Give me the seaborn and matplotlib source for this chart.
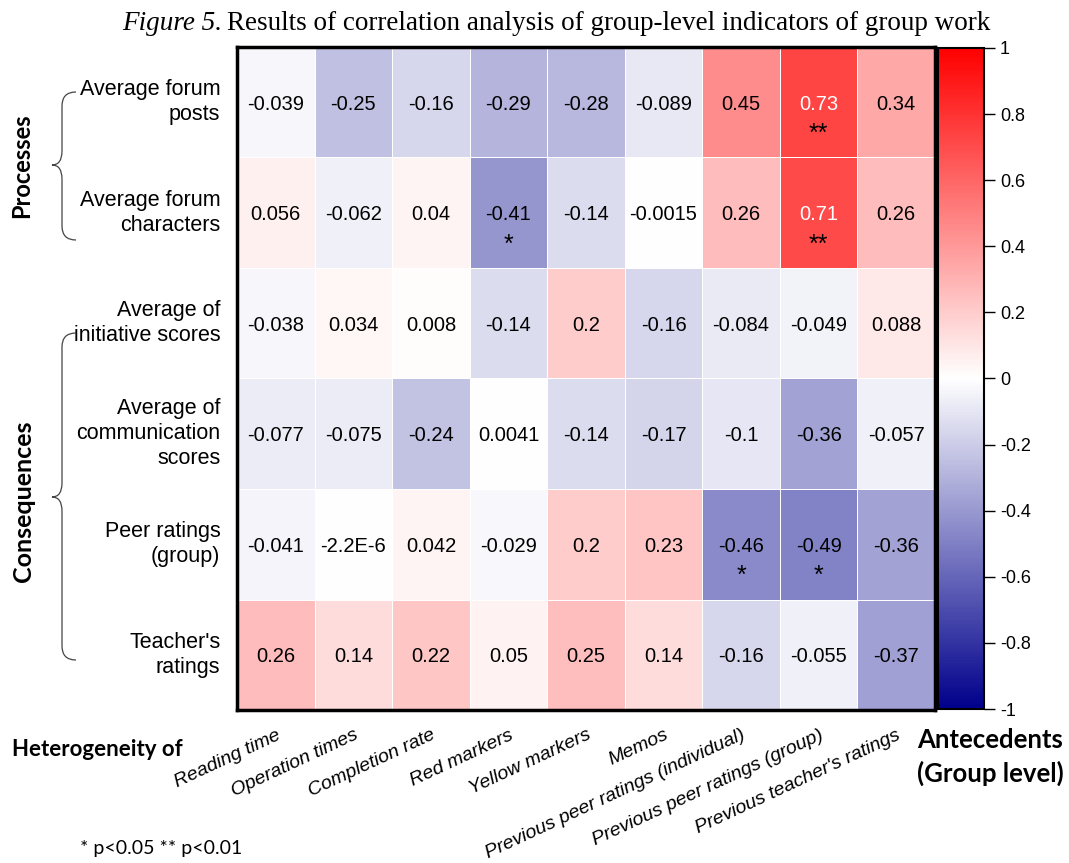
import numpy as np
import pandas as pd
import matplotlib
matplotlib.use("Agg")
import matplotlib.pyplot as plt
from matplotlib.colors import LinearSegmentedColormap
from matplotlib.path import Path
from matplotlib.patches import PathPatch
import seaborn as sns

# rows: outcomes (processes / consequences), columns: heterogeneity antecedents
row_labels = ["Average forum\nposts", "Average forum\ncharacters", "Average of\ninitiative scores",
              "Average of\ncommunication\nscores", "Peer ratings\n(group)", "Teacher's\nratings"]
col_labels = ["Reading time", "Operation times", "Completion rate", "Red markers", "Yellow markers",
              "Memos", "Previous peer ratings (individual)", "Previous peer ratings (group)",
              "Previous teacher's ratings"]

r_posts = [-0.039, -0.25, -0.16, -0.29, -0.28, -0.089, 0.45, 0.73, 0.34]
r_chars = [0.056, -0.062, 0.04, -0.41, -0.14, -0.0015, 0.26, 0.71, 0.26]
r_init = [-0.038, 0.034, 0.008, -0.14, 0.2, -0.16, -0.084, -0.049, 0.088]
r_comm = [-0.077, -0.075, -0.24, 0.0041, -0.14, -0.17, -0.1, -0.36, -0.057]
r_peer = [-0.041, -2.2e-6, 0.042, -0.029, 0.2, 0.23, -0.46, -0.49, -0.36]
r_teacher = [0.26, 0.14, 0.22, 0.05, 0.25, 0.14, -0.16, -0.055, -0.37]

sig_posts = ["", "", "", "", "", "", "", "**", ""]
sig_chars = ["", "", "", "*", "", "", "", "**", ""]
sig_init = [""] * 9
sig_comm = [""] * 9
sig_peer = ["", "", "", "", "", "", "*", "*", ""]
sig_teacher = [""] * 9

df = pd.DataFrame([r_posts, r_chars, r_init, r_comm, r_peer, r_teacher],
                  index=row_labels, columns=col_labels)
sig = [sig_posts, sig_chars, sig_init, sig_comm, sig_peer, sig_teacher]

cmap = LinearSegmentedColormap.from_list("bwr_navy", ["#00008B", "#FFFFFF", "#FF0000"])

W, H = 1069, 863
fig = plt.figure(figsize=(W / 100, H / 100), dpi=100)
ax = fig.add_axes([237 / W, 1 - 710 / H, 698 / W, 663 / H])
cax = fig.add_axes([938 / W, 1 - 709 / H, 46 / W, 661 / H])

sns.heatmap(df, ax=ax, cbar_ax=cax, cmap=cmap, vmin=-1, vmax=1,
            linewidths=0.6, linecolor="white", annot=False)

sans = "Liberation Sans"
bold = "Lato"

def fmt(v):
    s = "{:.2g}".format(v)
    return s.replace("e-06", "E-6")

for i in range(df.shape[0]):
    for j in range(df.shape[1]):
        v = df.iat[i, j]
        col = "white" if v > 0.7 else "black"
        ax.text(j + 0.5, i + 0.52, fmt(v), ha="center", va="center",
                fontsize=14.5, color=col, family=sans)
        if sig[i][j]:
            ax.text(j + 0.5, i + 0.79, sig[i][j], ha="center", va="center",
                    fontsize=18, color="black", family=sans)

for sp in ax.spines.values():
    sp.set_visible(True)
    sp.set_linewidth(2.5)
    sp.set_color("black")

ax.tick_params(axis="both", length=0)
ax.set_xlabel("")
ax.set_ylabel("")
ax.set_yticks(np.arange(len(row_labels)) + 0.5)
ax.set_yticklabels(row_labels, rotation=0, fontsize=15.5, family=sans, ha="right",
                   multialignment="right", linespacing=1.25)
ax.tick_params(axis="y", pad=12)
ax.set_xticks(np.arange(len(col_labels)) + 0.5)
ax.set_xticklabels(col_labels, rotation=25, ha="right", rotation_mode="anchor",
                   fontsize=14, family=sans, style="italic")
ax.tick_params(axis="x", pad=12)

# colorbar
cbar = ax.collections[0].colorbar
ticks = np.round(np.linspace(-1, 1, 11), 1)
cbar.set_ticks(ticks)
cbar.set_ticklabels(["{:g}".format(t + 0.0) for t in ticks])
cax.tick_params(labelsize=13, length=8, width=1, direction="out")
for lab in cax.get_yticklabels():
    lab.set_family(sans)
cbar.outline.set_visible(True)
cbar.outline.set_linewidth(1.5)
cbar.outline.set_edgecolor("black")

# title with italic figure number
renderer = fig.canvas.get_renderer()
t1 = fig.text(122 / W, 1 - 24 / H, "Figure 5.", fontsize=19.5, family="Liberation Serif",
              style="italic", va="center", ha="left")
bb = t1.get_window_extent(renderer)
fig.text((bb.x1 + 5) / W, 1 - 24 / H, "Results of correlation analysis of group-level indicators of group work",
         fontsize=19.5, family="Liberation Serif", va="center", ha="left")

# group labels
fig.text(22 / W, 1 - 166 / H, "Processes", rotation=90, fontsize=17, family=bold,
         weight="bold", ha="center", va="center")
fig.text(24 / W, 1 - 501 / H, "Consequences", rotation=90, fontsize=18, family=bold,
         weight="bold", ha="center", va="center")
fig.text(12 / W, 1 - 749 / H, "Heterogeneity of", fontsize=16, family=bold, weight="bold",
         ha="left", va="center")
fig.text(990 / W, 1 - 757 / H, "Antecedents\n(Group level)", fontsize=18.5, family=bold,
         weight="bold", ha="center", va="center", linespacing=1.45)
fig.text(80 / W, 1 - 848 / H, "* p<0.05 ** p<0.01", fontsize=14, family=bold,
         ha="left", va="center")

# curly braces
def brace(xtip, xbody, xend, ytop, ymid, ybot):
    d = 14
    pts = [(xend, ytop), (xbody, ytop), (xbody, ytop + d),
           (xbody, ymid - d), (xbody, ymid), (xtip, ymid),
           (xbody, ymid), (xbody, ymid + d),
           (xbody, ybot - d), (xbody, ybot), (xend, ybot)]
    codes = [Path.MOVETO, Path.CURVE3, Path.CURVE3,
             Path.LINETO, Path.CURVE3, Path.CURVE3,
             Path.CURVE3, Path.CURVE3,
             Path.LINETO, Path.CURVE3, Path.CURVE3]
    pts = [(x / W, 1 - y / H) for x, y in pts]
    patch = PathPatch(Path(pts, codes), transform=fig.transFigure, fill=False,
                      edgecolor="#444444", linewidth=0.9)
    fig.add_artist(patch)

brace(52, 62, 76, 92, 165, 240)
brace(52, 62, 76, 333, 497, 660)

fig.savefig("out.png", dpi=100)
